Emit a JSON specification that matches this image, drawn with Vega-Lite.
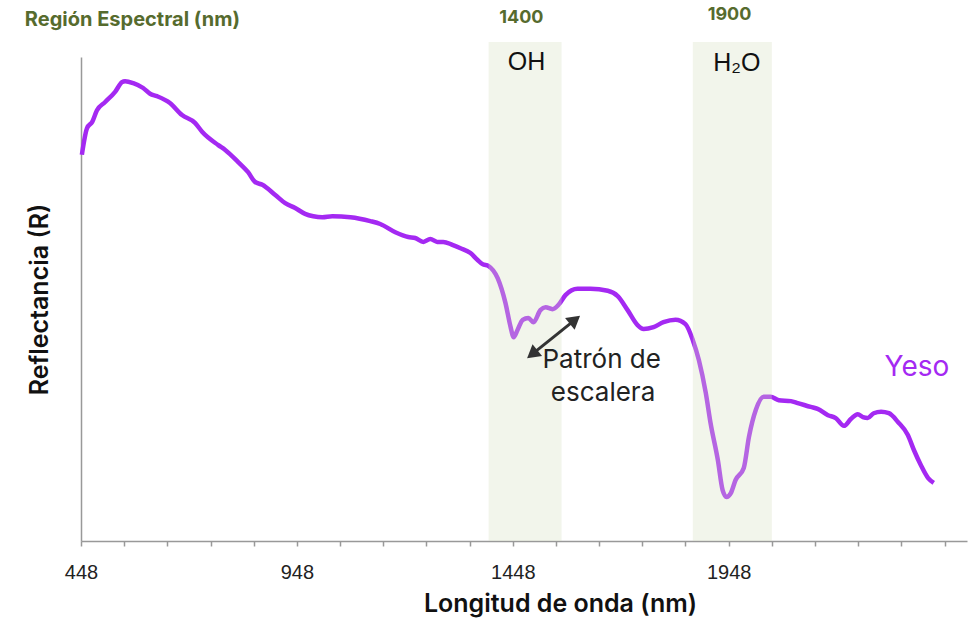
{
  "$schema": "https://vega.github.io/schema/vega-lite/v6.json",
  "width": 886,
  "height": 484,
  "autosize": {"type": "none"},
  "padding": {"left": 81, "top": 57, "right": 12, "bottom": 77},
  "background": "white",
  "config": {"view": {"stroke": null}, "axis": {"labelFontSize": 20}},
  "datasets": {
    "spectrum": [
      {"wl": 450, "R": 0.798}, {"wl": 462, "R": 0.853}, {"wl": 474, "R": 0.866}, {"wl": 485, "R": 0.890},
      {"wl": 504, "R": 0.907}, {"wl": 527, "R": 0.928}, {"wl": 543, "R": 0.948}, {"wl": 550, "R": 0.950},
      {"wl": 569, "R": 0.946}, {"wl": 592, "R": 0.936}, {"wl": 608, "R": 0.924}, {"wl": 624, "R": 0.919},
      {"wl": 654, "R": 0.905}, {"wl": 682, "R": 0.880}, {"wl": 712, "R": 0.864}, {"wl": 729, "R": 0.845},
      {"wl": 766, "R": 0.818}, {"wl": 782, "R": 0.808}, {"wl": 812, "R": 0.783}, {"wl": 835, "R": 0.762},
      {"wl": 851, "R": 0.742}, {"wl": 868, "R": 0.736}, {"wl": 898, "R": 0.715}, {"wl": 921, "R": 0.698},
      {"wl": 944, "R": 0.688}, {"wl": 967, "R": 0.676}, {"wl": 986, "R": 0.671}, {"wl": 1007, "R": 0.669},
      {"wl": 1030, "R": 0.671}, {"wl": 1072, "R": 0.669}, {"wl": 1118, "R": 0.661}, {"wl": 1141, "R": 0.655},
      {"wl": 1176, "R": 0.638}, {"wl": 1206, "R": 0.628}, {"wl": 1222, "R": 0.626}, {"wl": 1241, "R": 0.618},
      {"wl": 1257, "R": 0.624}, {"wl": 1273, "R": 0.618}, {"wl": 1287, "R": 0.618}, {"wl": 1308, "R": 0.612},
      {"wl": 1327, "R": 0.605}, {"wl": 1350, "R": 0.595}, {"wl": 1366, "R": 0.581}, {"wl": 1378, "R": 0.572},
      {"wl": 1392, "R": 0.568}, {"wl": 1413, "R": 0.543}, {"wl": 1431, "R": 0.492}, {"wl": 1443, "R": 0.442},
      {"wl": 1450, "R": 0.421}, {"wl": 1459, "R": 0.436}, {"wl": 1471, "R": 0.457}, {"wl": 1484, "R": 0.461},
      {"wl": 1496, "R": 0.452}, {"wl": 1512, "R": 0.477}, {"wl": 1524, "R": 0.483}, {"wl": 1540, "R": 0.479},
      {"wl": 1554, "R": 0.488}, {"wl": 1570, "R": 0.508}, {"wl": 1598, "R": 0.521}, {"wl": 1628, "R": 0.521},
      {"wl": 1668, "R": 0.517}, {"wl": 1691, "R": 0.506}, {"wl": 1714, "R": 0.477}, {"wl": 1737, "R": 0.446},
      {"wl": 1751, "R": 0.438}, {"wl": 1774, "R": 0.442}, {"wl": 1797, "R": 0.452}, {"wl": 1825, "R": 0.457},
      {"wl": 1848, "R": 0.448}, {"wl": 1865, "R": 0.415}, {"wl": 1879, "R": 0.374}, {"wl": 1895, "R": 0.306},
      {"wl": 1906, "R": 0.244}, {"wl": 1923, "R": 0.167}, {"wl": 1934, "R": 0.105}, {"wl": 1943, "R": 0.091},
      {"wl": 1953, "R": 0.099}, {"wl": 1964, "R": 0.126}, {"wl": 1983, "R": 0.151}, {"wl": 1995, "R": 0.215},
      {"wl": 2011, "R": 0.271}, {"wl": 2029, "R": 0.298}, {"wl": 2045, "R": 0.298}, {"wl": 2064, "R": 0.291},
      {"wl": 2092, "R": 0.289}, {"wl": 2108, "R": 0.285}, {"wl": 2138, "R": 0.277}, {"wl": 2154, "R": 0.273},
      {"wl": 2178, "R": 0.260}, {"wl": 2196, "R": 0.254}, {"wl": 2215, "R": 0.238}, {"wl": 2231, "R": 0.252},
      {"wl": 2247, "R": 0.262}, {"wl": 2259, "R": 0.256}, {"wl": 2270, "R": 0.254}, {"wl": 2284, "R": 0.264},
      {"wl": 2301, "R": 0.267}, {"wl": 2319, "R": 0.264}, {"wl": 2340, "R": 0.246}, {"wl": 2363, "R": 0.219},
      {"wl": 2377, "R": 0.188}, {"wl": 2393, "R": 0.157}, {"wl": 2410, "R": 0.130}, {"wl": 2423, "R": 0.120}
    ],
    "bands": [
      {"start": 1392, "end": 1561, "top": 1.031, "bottom": 0},
      {"start": 1865, "end": 2048, "top": 1.031, "bottom": 0}
    ],
    "bandNumbers": [
      {"wl": 1468, "R": 1.081, "label": "1400"},
      {"wl": 1950, "R": 1.087, "label": "1900"}
    ],
    "groups": [
      {"wl": 1480, "R": 0.990, "label": "OH"},
      {"wl": 1967, "R": 0.988, "label": "H₂O"}
    ],
    "pattern": [
      {"wl": 1654, "R": 0.374, "label": "Patrón de"},
      {"wl": 1657, "R": 0.306, "label": "escalera"}
    ],
    "arrow": [
      {"wl": 1493, "R": 0.386, "wl2": 1592, "R2": 0.457}
    ],
    "region": [{"wl": 318, "R": 1.076, "label": "Región Espectral (nm)"}],
    "series": [{"wl": 2384, "R": 0.357, "label": "Yeso"}]
  },
  "layer": [
    {
      "data": {"name": "spectrum"},
      "mark": {"type": "line", "color": "#a429f2", "strokeWidth": 4.5, "interpolate": "monotone", "clip": false},
      "encoding": {
        "x": {
          "field": "wl", "type": "quantitative",
          "scale": {"domain": [448, 2500], "nice": false, "zero": false},
          "axis": {
            "values": [448, 548, 648, 748, 848, 948, 1048, 1148, 1248, 1348, 1448, 1548, 1648, 1748, 1848, 1948, 2048, 2148, 2248, 2348, 2448],
            "labelExpr": "((datum.value - 448) % 500 == 0 && datum.value < 2000) ? datum.label : ''",
            "format": "d",
            "grid": false,
            "labelFlush": false,
            "labelOverlap": false,
            "domainColor": "#999999",
            "domainWidth": 1.5,
            "tickColor": "#999999",
            "tickSize": 5,
            "tickWidth": 1.5,
            "labelFont": "Liberation Sans",
            "labelFontSize": 20,
            "labelColor": "#222222",
            "labelPadding": 16,
            "title": "Longitud de onda (nm)",
            "titleFont": "Inter",
            "titleFontSize": 25,
            "titleFontWeight": 600,
            "titleColor": "#111111",
            "titleX": 479,
            "titleAnchor": null,
            "titleAlign": "center",
            "titlePadding": 9
          }
        },
        "y": {
          "field": "R", "type": "quantitative",
          "scale": {"domain": [0, 1], "nice": false},
          "axis": {
            "ticks": false,
            "labels": false,
            "grid": false,
            "domainColor": "#999999",
            "domainWidth": 1.5,
            "title": "Reflectancia (R)",
            "titleFont": "Inter",
            "titleFontSize": 25,
            "titleFontWeight": 600,
            "titleColor": "#111111",
            "titlePadding": 29
          }
        }
      }
    },
    {
      "data": {"name": "bands"},
      "mark": {"type": "rect", "color": "#d7e0c2", "opacity": 0.33, "clip": false},
      "encoding": {
        "x": {"field": "start", "type": "quantitative"},
        "x2": {"field": "end"},
        "y": {"field": "top", "type": "quantitative"},
        "y2": {"field": "bottom"}
      }
    },
    {
      "data": {"name": "bandNumbers"},
      "mark": {"type": "text", "font": "Inter", "fontSize": 18, "fontWeight": "bold", "color": "#566b2e", "align": "center", "baseline": "middle"},
      "encoding": {
        "x": {"field": "wl", "type": "quantitative"},
        "y": {"field": "R", "type": "quantitative"},
        "text": {"field": "label"}
      }
    },
    {
      "data": {"name": "region"},
      "mark": {"type": "text", "font": "Inter", "fontSize": 20, "fontWeight": "bold", "color": "#566b2e", "align": "left", "baseline": "middle"},
      "encoding": {
        "x": {"field": "wl", "type": "quantitative"},
        "y": {"field": "R", "type": "quantitative"},
        "text": {"field": "label"}
      }
    },
    {
      "data": {"name": "groups"},
      "mark": {"type": "text", "font": "Liberation Sans", "fontSize": 25, "color": "#111111", "align": "center", "baseline": "middle"},
      "encoding": {
        "x": {"field": "wl", "type": "quantitative"},
        "y": {"field": "R", "type": "quantitative"},
        "text": {"field": "label"}
      }
    },
    {
      "data": {"name": "pattern"},
      "mark": {"type": "text", "font": "Inter", "fontSize": 26, "color": "#222222", "align": "center", "baseline": "middle"},
      "encoding": {
        "x": {"field": "wl", "type": "quantitative"},
        "y": {"field": "R", "type": "quantitative"},
        "text": {"field": "label"}
      }
    },
    {
      "data": {"name": "series"},
      "mark": {"type": "text", "font": "Inter", "fontSize": 28, "color": "#a429f2", "align": "center", "baseline": "middle"},
      "encoding": {
        "x": {"field": "wl", "type": "quantitative"},
        "y": {"field": "R", "type": "quantitative"},
        "text": {"field": "label"}
      }
    },
    {
      "data": {"name": "arrow"},
      "mark": {"type": "rule", "color": "#333333", "strokeWidth": 3},
      "encoding": {
        "x": {"field": "wl", "type": "quantitative"},
        "y": {"field": "R", "type": "quantitative"},
        "x2": {"field": "wl2"},
        "y2": {"field": "R2"}
      }
    },
    {
      "data": {"name": "arrow"},
      "mark": {"type": "point", "shape": "triangle-up", "filled": true, "color": "#333333", "opacity": 1, "size": 230, "angle": 51},
      "encoding": {
        "x": {"field": "wl2", "type": "quantitative"},
        "y": {"field": "R2", "type": "quantitative"}
      }
    },
    {
      "data": {"name": "arrow"},
      "mark": {"type": "point", "shape": "triangle-up", "filled": true, "color": "#333333", "opacity": 1, "size": 230, "angle": 231},
      "encoding": {
        "x": {"field": "wl", "type": "quantitative"},
        "y": {"field": "R", "type": "quantitative"}
      }
    }
  ]
}
